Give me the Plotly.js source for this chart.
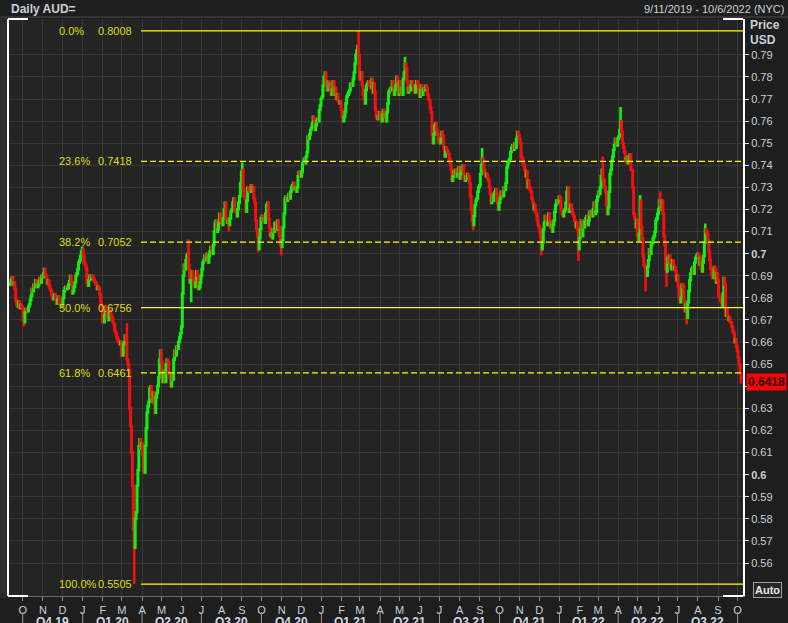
<!DOCTYPE html>
<html><head><meta charset="utf-8">
<script src="https://cdn.plot.ly/plotly-3.0.1.min.js"></script>
<style>html,body{margin:0;padding:0;background:#1e1e1e;overflow:hidden}#chart{width:788px;height:623px}</style>
</head><body><div id="chart"></div>
<script>
// ---- Daily closes (AUD/USD), one array per month ----
const c2019_09 = [0.6866,0.6880,0.6892,0.6858,0.6870,0.6840,0.6790,0.6768,0.6760,0.6785,0.6755,0.6770,0.6760,0.6750];
const c2019_10 = [0.6700,0.6690,0.6735,0.6750,0.6745,0.6740,0.6760,0.6770,0.6790,0.6810,0.6840,0.6830,0.6860,0.6850,0.6880,0.6870,0.6850,0.6860,0.6875,0.6890,0.6870,0.6900,0.6895];
const c2019_11 = [0.6910,0.6930,0.6905,0.6890,0.6865,0.6880,0.6855,0.6840,0.6830,0.6810,0.6795,0.6800,0.6815,0.6790,0.6775,0.6790,0.6805,0.6780,0.6775,0.6770,0.6765];
const c2019_12 = [0.6800,0.6830,0.6845,0.6850,0.6840,0.6845,0.6860,0.6875,0.6900,0.6870,0.6820,0.6830,0.6850,0.6870,0.6900,0.6910,0.6930,0.6960,0.6970,0.6990,0.7010,0.7020];
const c2020_01 = [0.6990,0.6960,0.6950,0.6935,0.6870,0.6855,0.6880,0.6900,0.6885,0.6900,0.6895,0.6890,0.6875,0.6870,0.6860,0.6840,0.6850,0.6845,0.6815,0.6780,0.6760,0.6690];
const c2020_02 = [0.6690,0.6720,0.6760,0.6740,0.6710,0.6700,0.6730,0.6740,0.6720,0.6710,0.6690,0.6680,0.6650,0.6640,0.6620,0.6610,0.6600,0.6590,0.6600,0.6540];
const c2020_03 = [0.6540,0.6590,0.6600,0.6630,0.6610,0.6520,0.6500,0.6470,0.6300,0.6220,0.6100,0.5950,0.5750,0.5670,0.5800,0.5830,0.5950,0.6020,0.6130,0.6160,0.6120,0.6140];
const c2020_04 = [0.6090,0.6020,0.6010,0.6130,0.6210,0.6280,0.6310,0.6330,0.6390,0.6400,0.6350,0.6330,0.6370,0.6320,0.6280,0.6350,0.6370,0.6400,0.6440,0.6520,0.6560,0.6510];
const c2020_05 = [0.6420,0.6450,0.6470,0.6420,0.6500,0.6520,0.6510,0.6460,0.6440,0.6400,0.6450,0.6430,0.6520,0.6560,0.6540,0.6580,0.6570,0.6600,0.6620,0.6640,0.6670];
const c2020_06 = [0.6820,0.6900,0.6950,0.6930,0.6970,0.6990,0.7000,0.6950,0.6870,0.6880,0.6880,0.6920,0.6890,0.6860,0.6850,0.6870,0.6920,0.6900,0.6840,0.6850,0.6870,0.6900];
const c2020_07 = [0.6930,0.6960,0.6970,0.6990,0.6970,0.6980,0.7000,0.6960,0.6990,0.7010,0.7030,0.7020,0.7000,0.7040,0.7100,0.7140,0.7150,0.7100,0.7110,0.7140,0.7180,0.7150,0.7145];
const c2020_08 = [0.7130,0.7160,0.7200,0.7230,0.7160,0.7140,0.7150,0.7130,0.7160,0.7190,0.7200,0.7230,0.7250,0.7200,0.7190,0.7170,0.7200,0.7230,0.7260,0.7320,0.7370];
const c2020_09 = [0.7380,0.7290,0.7260,0.7250,0.7190,0.7240,0.7300,0.7290,0.7280,0.7280,0.7310,0.7290,0.7300,0.7250,0.7230,0.7150,0.7110,0.7080,0.7020,0.7070,0.7110,0.7160];
const c2020_10 = [0.7170,0.7150,0.7160,0.7140,0.7180,0.7220,0.7230,0.7160,0.7120,0.7080,0.7090,0.7070,0.7110,0.7100,0.7140,0.7140,0.7110,0.7150,0.7120,0.7080,0.7040,0.7030];
const c2020_11 = [0.7060,0.7120,0.7180,0.7250,0.7260,0.7240,0.7250,0.7270,0.7250,0.7280,0.7300,0.7310,0.7320,0.7290,0.7300,0.7280,0.7300,0.7350,0.7370,0.7360,0.7350];
const c2020_12 = [0.7370,0.7410,0.7420,0.7430,0.7410,0.7440,0.7460,0.7530,0.7520,0.7540,0.7560,0.7570,0.7590,0.7620,0.7610,0.7560,0.7580,0.7600,0.7610,0.7600,0.7650,0.7670,0.7700];
const c2021_01 = [0.7710,0.7760,0.7800,0.7820,0.7760,0.7740,0.7780,0.7750,0.7770,0.7720,0.7740,0.7780,0.7720,0.7750,0.7700,0.7720,0.7690,0.7680,0.7690,0.7650];
const c2021_02 = [0.7620,0.7600,0.7620,0.7640,0.7680,0.7710,0.7720,0.7730,0.7740,0.7770,0.7770,0.7760,0.7790,0.7820,0.7860,0.7900,0.7920,0.7940,0.7900,0.7790];
const c2021_03 = [0.7790,0.7820,0.7760,0.7720,0.7700,0.7680,0.7740,0.7760,0.7770,0.7780,0.7760,0.7760,0.7750,0.7790,0.7730,0.7770,0.7730,0.7650,0.7620,0.7610,0.7620,0.7610,0.7640];
const c2021_04 = [0.7610,0.7600,0.7630,0.7650,0.7620,0.7630,0.7600,0.7640,0.7680,0.7730,0.7740,0.7750,0.7740,0.7780,0.7760,0.7720,0.7740,0.7760,0.7800,0.7780,0.7720,0.7780];
const c2021_05 = [0.7730,0.7750,0.7720,0.7790,0.7820,0.7860,0.7840,0.7780,0.7730,0.7750,0.7740,0.7760,0.7780,0.7760,0.7740,0.7730,0.7760,0.7780,0.7770,0.7730,0.7710];
const c2021_06 = [0.7740,0.7760,0.7720,0.7740,0.7750,0.7740,0.7760,0.7750,0.7720,0.7700,0.7690,0.7660,0.7640,0.7540,0.7500,0.7540,0.7580,0.7590,0.7560,0.7540,0.7510,0.7500];
const c2021_07 = [0.7500,0.7520,0.7550,0.7530,0.7480,0.7440,0.7480,0.7470,0.7460,0.7450,0.7430,0.7410,0.7380,0.7330,0.7350,0.7370,0.7360,0.7380,0.7350,0.7360,0.7390,0.7340];
const c2021_08 = [0.7360,0.7390,0.7380,0.7400,0.7340,0.7330,0.7350,0.7340,0.7360,0.7350,0.7320,0.7260,0.7200,0.7150,0.7130,0.7170,0.7220,0.7240,0.7250,0.7280,0.7300,0.7310];
const c2021_09 = [0.7360,0.7400,0.7430,0.7420,0.7380,0.7360,0.7350,0.7360,0.7340,0.7330,0.7300,0.7270,0.7230,0.7260,0.7240,0.7270,0.7280,0.7290,0.7270,0.7230,0.7200,0.7230];
const c2021_10 = [0.7250,0.7280,0.7270,0.7260,0.7300,0.7290,0.7320,0.7390,0.7410,0.7420,0.7430,0.7460,0.7480,0.7490,0.7470,0.7500,0.7480,0.7520,0.7550,0.7540,0.7520];
const c2021_11 = [0.7500,0.7440,0.7430,0.7410,0.7400,0.7380,0.7350,0.7370,0.7300,0.7330,0.7300,0.7290,0.7280,0.7250,0.7230,0.7200,0.7220,0.7190,0.7180,0.7150,0.7130,0.7120];
const c2021_12 = [0.7100,0.7070,0.7020,0.7050,0.7110,0.7140,0.7170,0.7160,0.7130,0.7140,0.7180,0.7150,0.7120,0.7140,0.7100,0.7130,0.7150,0.7190,0.7220,0.7240,0.7240,0.7230,0.7260];
const c2022_01 = [0.7250,0.7200,0.7180,0.7170,0.7190,0.7200,0.7230,0.7280,0.7300,0.7190,0.7200,0.7220,0.7200,0.7180,0.7170,0.7150,0.7120,0.7140,0.7110,0.7020,0.7070];
const c2022_02 = [0.7110,0.7150,0.7080,0.7140,0.7120,0.7150,0.7160,0.7170,0.7130,0.7150,0.7190,0.7180,0.7190,0.7170,0.7200,0.7230,0.7180,0.7190,0.7240,0.7260];
const c2022_03 = [0.7280,0.7270,0.7300,0.7350,0.7380,0.7340,0.7330,0.7300,0.7280,0.7220,0.7180,0.7210,0.7280,0.7360,0.7380,0.7420,0.7440,0.7470,0.7490,0.7520,0.7510,0.7490,0.7520];
const c2022_04 = [0.7530,0.7560,0.7600,0.7550,0.7500,0.7480,0.7460,0.7420,0.7430,0.7410,0.7440,0.7420,0.7450,0.7380,0.7380,0.7300,0.7180,0.7160,0.7120,0.7150,0.7080];
const c2022_05 = [0.7060,0.7090,0.7240,0.7120,0.7070,0.6990,0.6950,0.6940,0.6920,0.6900,0.6940,0.6970,0.7020,0.7000,0.7040,0.7050,0.7070,0.7080,0.7100,0.7150,0.7160,0.7180];
const c2022_06 = [0.7200,0.7240,0.7220,0.7200,0.7240,0.7180,0.7080,0.7040,0.6930,0.6920,0.6980,0.6960,0.6990,0.6940,0.6930,0.6950,0.6970,0.6930,0.6940,0.6920,0.6880,0.6900];
const c2022_07 = [0.6850,0.6800,0.6780,0.6800,0.6860,0.6850,0.6790,0.6740,0.6770,0.6710,0.6780,0.6830,0.6880,0.6910,0.6930,0.6940,0.6910,0.6960,0.6980,0.6990,0.7000];
const c2022_08 = [0.6990,0.6950,0.6980,0.6930,0.6920,0.6960,0.6990,0.7050,0.7110,0.7100,0.7090,0.7060,0.7010,0.6970,0.6930,0.6910,0.6890,0.6890,0.6940,0.6930,0.6870,0.6910,0.6880];
const c2022_09 = [0.6810,0.6800,0.6790,0.6780,0.6760,0.6820,0.6890,0.6860,0.6720,0.6750,0.6720,0.6700,0.6710,0.6690,0.6690,0.6670,0.6650,0.6640,0.6600,0.6610,0.6580,0.6560];
const c2022_10 = [0.6530,0.6500,0.6460,0.6418];

const monthKeys = ['2019-09','2019-10','2019-11','2019-12','2020-01','2020-02','2020-03','2020-04','2020-05','2020-06','2020-07','2020-08','2020-09','2020-10','2020-11','2020-12','2021-01','2021-02','2021-03','2021-04','2021-05','2021-06','2021-07','2021-08','2021-09','2021-10','2021-11','2021-12','2022-01','2022-02','2022-03','2022-04','2022-05','2022-06','2022-07','2022-08','2022-09','2022-10'];
const monthCloses = [c2019_09,c2019_10,c2019_11,c2019_12,c2020_01,c2020_02,c2020_03,c2020_04,c2020_05,c2020_06,c2020_07,c2020_08,c2020_09,c2020_10,c2020_11,c2020_12,c2021_01,c2021_02,c2021_03,c2021_04,c2021_05,c2021_06,c2021_07,c2021_08,c2021_09,c2021_10,c2021_11,c2021_12,c2022_01,c2022_02,c2022_03,c2022_04,c2022_05,c2022_06,c2022_07,c2022_08,c2022_09,c2022_10];
const firstDay = '2019-09-11';
const lastDayExclusive = '2022-10-07';
const firstOpen = 0.6860;

// intraday extremes (month, day index in month, value)
const wickHigh = [['2019-11',1,0.6935],['2019-12',21,0.7032],['2020-03',5,0.6686],['2020-06',7,0.7064],['2020-09',0,0.7413],['2021-02',18,0.8008],['2021-05',5,0.7891],['2021-09',2,0.7478],['2021-10',18,0.7556],['2022-03',5,0.7440],['2022-04',2,0.7664],['2022-05',2,0.7266],['2022-06',2,0.7283],['2022-08',8,0.7137]];
const wickLow = [['2019-10',1,0.6670],['2020-03',13,0.5505],['2020-06',10,0.6780],['2020-08',7,0.7100],['2020-09',18,0.7006],['2020-10',21,0.6992],['2021-08',14,0.7106],['2021-12',2,0.6993],['2022-01',19,0.6967],['2022-05',8,0.6829],['2022-06',9,0.6850],['2022-07',9,0.6681]];

// Fibonacci retracement levels
const fibPct = ['0.0%','23.6%','38.2%','50.0%','61.8%','100.0%'];
const fibVal = [0.8008,0.7418,0.7052,0.6756,0.6461,0.5505];
const fibDash = ['solid','6px,3px','6px,3px','solid','6px,3px','solid'];

// axis labels
const monthTickDates = ['2019-10-01','2019-11-01','2019-12-01','2020-01-01','2020-02-01','2020-03-01','2020-04-01','2020-05-01','2020-06-01','2020-07-01','2020-08-01','2020-09-01','2020-10-01','2020-11-01','2020-12-01','2021-01-01','2021-02-01','2021-03-01','2021-04-01','2021-05-01','2021-06-01','2021-07-01','2021-08-01','2021-09-01','2021-10-01','2021-11-01','2021-12-01','2022-01-01','2022-02-01','2022-03-01','2022-04-01','2022-05-01','2022-06-01','2022-07-01','2022-08-01','2022-09-01','2022-10-01'];
const monthTickText = ['O','N','D','J','F','M','A','M','J','J','A','S','O','N','D','J','F','M','A','M','J','J','A','S','O','N','D','J','F','M','A','M','J','J','A','S','O'];
const quarterStarts = ['2019-10-01','2020-01-01','2020-04-01','2020-07-01','2020-10-01','2021-01-01','2021-04-01','2021-07-01','2021-10-01','2022-01-01','2022-04-01','2022-07-01','2022-10-01'];
const quarterLabels = ['Q4 19','Q1 20','Q2 20','Q3 20','Q4 20','Q1 21','Q2 21','Q3 21','Q4 21','Q1 22','Q2 22','Q3 22'];
const yTickVals = [0.56,0.57,0.58,0.59,0.60,0.61,0.62,0.63,0.64,0.65,0.66,0.67,0.68,0.69,0.70,0.71,0.72,0.73,0.74,0.75,0.76,0.77,0.78,0.79];
const lastPrice = 0.6418;

// ---- build ----
function ms(s){const p=s.split('-').map(Number);return Date.UTC(p[0],p[1]-1,p[2]||1);}
function pad(n){return (n<10?'0':'')+n;}
function fmt(t){const d=new Date(t);return d.getUTCFullYear()+'-'+pad(d.getUTCMonth()+1)+'-'+pad(d.getUTCDate())+' '+pad(d.getUTCHours())+':'+pad(d.getUTCMinutes());}

const X=[],O=[],H=[],L=[],C=[];
const idxMap={};
let prev=firstOpen;
monthKeys.forEach(function(k,m){
  const arr=monthCloses[m];
  const s = m===0 ? ms(firstDay) : ms(k+'-01');
  const e = m===monthKeys.length-1 ? ms(lastDayExclusive) : ms(monthKeys[m+1]+'-01');
  arr.forEach(function(c,i){
    const t = s + (i+0.5)*(e-s)/arr.length;
    idxMap[k+'|'+i]=X.length;
    X.push(fmt(t)); O.push(prev); C.push(c);
    H.push(Math.max(prev,c)); L.push(Math.min(prev,c));
    prev=c;
  });
});
wickHigh.forEach(function(w){const j=idxMap[w[0]+'|'+w[1]]; if(j!==undefined) H[j]=Math.max(H[j],w[2]);});
wickLow.forEach(function(w){const j=idxMap[w[0]+'|'+w[1]]; if(j!==undefined) L[j]=Math.min(L[j],w[2]);});

// geometry helpers (plot area: x 8..743, y 19..596)
const PL=8, PR=743, PT=19, PB=596;
function px(p){return (p-PL)/(PR-PL);}
function py(p){return (PB-p)/(PB-PT);}
const r0=ms('2019-09-08')+12*3600e3, r1=ms('2022-10-09')+7*3600e3;
function dx(s){return (ms(s)-r0)/(r1-r0);}

const GREEN='#12f012', RED='#f51010', YEL='#ffff00', LBL='#dede10', TXT='#c8d0da';

const shapes=[], annotations=[];
// left grey strip
shapes.push({type:'rect',xref:'paper',yref:'paper',x0:px(0),x1:px(7),y0:py(598),y1:py(18),fillcolor:'#2c2c2c',line:{width:0},layer:'below'});
// header separator
shapes.push({type:'line',xref:'paper',yref:'paper',x0:px(0),x1:px(788),y0:py(17),y1:py(17),line:{color:'#4a4a4a',width:1}});
// white frame corners
const W={color:'#ffffff',width:2};
shapes.push({type:'line',xref:'paper',yref:'paper',x0:0,x1:0,y0:0,y1:1,line:W});
shapes.push({type:'line',xref:'paper',yref:'paper',x0:0,x1:px(28),y0:1,y1:1,line:W});
shapes.push({type:'line',xref:'paper',yref:'paper',x0:0,x1:px(28),y0:0,y1:0,line:W});
shapes.push({type:'line',xref:'paper',yref:'paper',x0:px(723),x1:1,y0:1,y1:1,line:W});
shapes.push({type:'line',xref:'paper',yref:'paper',x0:px(723),x1:1,y0:0,y1:0,line:W});
// fib lines + labels
fibVal.forEach(function(v,i){
  shapes.push({type:'line',xref:'paper',yref:'y',x0:px(141),x1:1,y0:v,y1:v,layer:'above',line:{color:YEL,width:1.2,dash:fibDash[i]}});
  annotations.push({xref:'paper',yref:'y',x:px(57),y:v,text:fibPct[i],showarrow:false,xanchor:'left',yanchor:'middle',font:{size:11,color:LBL}});
  annotations.push({xref:'paper',yref:'y',x:px(134),y:v,text:fibVal[i].toFixed(4),showarrow:false,xanchor:'right',yanchor:'middle',font:{size:11,color:LBL}});
});
// quarter separators and labels
quarterStarts.forEach(function(q){
  shapes.push({type:'line',xref:'paper',yref:'paper',x0:dx(q),x1:dx(q),y0:py(612),y1:py(624),line:{color:'#9a9a9a',width:1}});
});
quarterLabels.forEach(function(t,i){
  const c=(dx(quarterStarts[i])+dx(quarterStarts[i+1]))/2;
  annotations.push({xref:'paper',yref:'paper',x:c,y:py(622),text:'<b>'+t+'</b>',showarrow:false,xanchor:'center',yanchor:'middle',font:{size:12,color:'#d0d8e2'}});
});
// headers
annotations.push({xref:'paper',yref:'paper',x:px(9),y:py(9),text:'<b>Daily AUD=</b>',showarrow:false,xanchor:'left',yanchor:'middle',font:{size:12,color:TXT}});
annotations.push({xref:'paper',yref:'paper',x:px(786),y:py(9),text:'9/11/2019 - 10/6/2022 (NYC)',showarrow:false,xanchor:'right',yanchor:'middle',font:{size:11,color:TXT}});
annotations.push({xref:'paper',yref:'paper',x:px(748),y:py(25),text:'<b>Price</b>',showarrow:false,xanchor:'left',yanchor:'middle',font:{size:12,color:TXT}});
annotations.push({xref:'paper',yref:'paper',x:px(748),y:py(40),text:'<b>USD</b>',showarrow:false,xanchor:'left',yanchor:'middle',font:{size:12,color:TXT}});
// last price tag
annotations.push({xref:'paper',yref:'y',x:px(746),y:lastPrice,text:'<b>'+lastPrice.toFixed(4)+'</b>',showarrow:false,xanchor:'left',yanchor:'middle',bgcolor:'#ff0000',borderpad:1,font:{size:12,color:'#1a0000'}});
// Auto button
annotations.push({xref:'paper',yref:'paper',x:px(767),y:py(590),text:'<b>Auto</b>',showarrow:false,xanchor:'center',yanchor:'middle',bordercolor:'#a0a0a0',borderwidth:1,borderpad:1,bgcolor:'#262626',font:{size:11,color:'#e6e6e6'}});

const trace={type:'candlestick',x:X,open:O,high:H,low:L,close:C,whiskerwidth:0,hoverinfo:'skip',showlegend:false,
  increasing:{line:{color:GREEN,width:2.6},fillcolor:GREEN},
  decreasing:{line:{color:RED,width:2.6},fillcolor:RED}};

const layout={width:788,height:623,margin:{l:PL,r:788-PR,t:PT,b:623-PB,pad:0},
  paper_bgcolor:'#1e1e1e',plot_bgcolor:'#242424',showlegend:false,hovermode:false,
  font:{family:'"Liberation Sans", Arial, sans-serif',size:11,color:TXT},
  xaxis:{type:'date',range:[fmt(r0),fmt(r1)],tickmode:'array',tickvals:monthTickDates,ticktext:monthTickText,tickangle:0,
    ticks:'outside',ticklen:4,tickcolor:'#8a8a8a',tickfont:{size:11,color:TXT},showgrid:true,gridcolor:'#383838',gridwidth:1,
    showline:true,linecolor:'#6a6a6a',linewidth:1,zeroline:false,rangeslider:{visible:false},fixedrange:true},
  yaxis:{side:'right',range:[0.5451,0.8062],tickmode:'array',tickvals:yTickVals,
    ticktext:yTickVals.map(function(v){const s=String(+v.toFixed(2));return (s.length===3)?'<b>'+s+'</b>':s;}),
    ticks:'outside',ticklen:4,tickcolor:'#e0e0e0',tickfont:{size:11,color:TXT},showgrid:true,gridcolor:'#383838',gridwidth:1,
    showline:true,linecolor:'#ffffff',linewidth:2,zeroline:false,fixedrange:true},
  shapes:shapes,annotations:annotations};

Plotly.newPlot('chart',[trace],layout,{staticPlot:true,displayModeBar:false});
</script></body></html>
